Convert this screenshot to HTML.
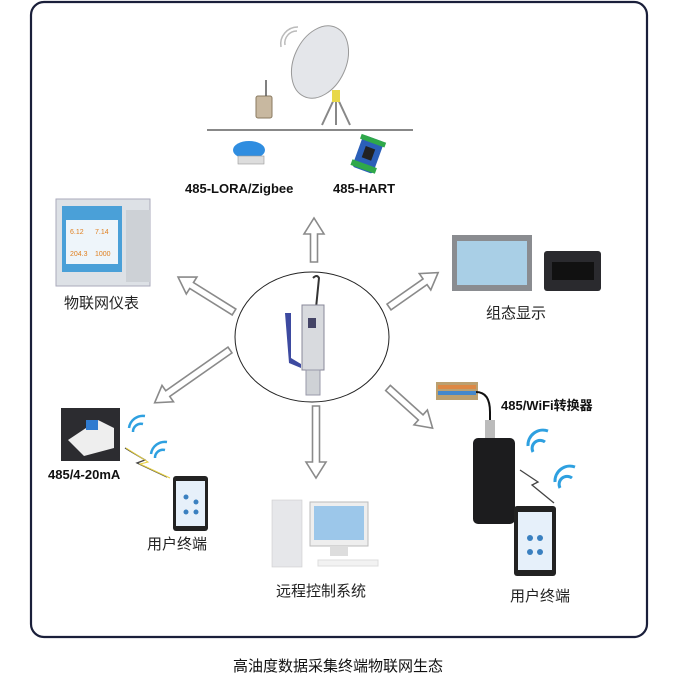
<!DOCTYPE html>
<html><head><meta charset="utf-8"><style>
html,body{margin:0;padding:0;background:#fff;}
svg{display:block;}
text{font-family:"Liberation Sans","Noto Sans CJK SC",sans-serif;}
</style></head><body>
<svg width="677" height="677" viewBox="0 0 677 677" xmlns="http://www.w3.org/2000/svg">
<defs>
<g id="arr"><polygon points="0,-3 -26,-3 -26,-9 -38,0 -26,9 -26,3" transform="scale(-1,1)" fill="#fff" stroke="#888" stroke-width="1.5"/></g>
</defs>
<rect x="31" y="2" width="616" height="635" rx="13" fill="#fff" stroke="#1a1f3a" stroke-width="2.2"/>

<!-- central ellipse -->
<ellipse cx="312" cy="337" rx="77" ry="65" fill="#fff" stroke="#222" stroke-width="1"/>
<path d="M313 278 q4 -4 6 0 l-3 30" stroke="#333" stroke-width="2" fill="none"/>
<rect x="302" y="305" width="22" height="65" fill="#d8dade" stroke="#889" stroke-width="1"/>
<rect x="306" y="370" width="14" height="25" fill="#cfd2d6" stroke="#99a" stroke-width="1"/>
<rect x="308" y="318" width="8" height="10" fill="#446"/>
<path d="M285 313 l6 0 l0 45 l10 6 l0 4 l-12 -5 z" fill="#3d4aa0"/>

<!-- arrows -->
<g transform="translate(314,262) rotate(-90)"><polygon points="0,-3.5 28,-3.5 28,-10 44,0 28,10 28,3.5 0,3.5" fill="#fff" stroke="#8a8a8a" stroke-width="1.6"/></g>
<g transform="translate(234,312) rotate(-148)"><polygon points="0,-3.5 50,-3.5 50,-10 66,0 50,10 50,3.5 0,3.5" fill="#fff" stroke="#8a8a8a" stroke-width="1.6"/></g>
<g transform="translate(389,307) rotate(-35)"><polygon points="0,-3.5 44,-3.5 44,-10 60,0 44,10 44,3.5 0,3.5" fill="#fff" stroke="#8a8a8a" stroke-width="1.6"/></g>
<g transform="translate(230,350) rotate(145)"><polygon points="0,-3.5 76,-3.5 76,-10 92,0 76,10 76,3.5 0,3.5" fill="#fff" stroke="#8a8a8a" stroke-width="1.6"/></g>
<g transform="translate(316,406) rotate(90)"><polygon points="0,-3.5 56,-3.5 56,-10 72,0 56,10 56,3.5 0,3.5" fill="#fff" stroke="#8a8a8a" stroke-width="1.6"/></g>
<g transform="translate(388,388) rotate(42)"><polygon points="0,-3.5 44,-3.5 44,-10 60,0 44,10 44,3.5 0,3.5" fill="#fff" stroke="#8a8a8a" stroke-width="1.6"/></g>

<!-- top: satellite -->
<ellipse cx="320" cy="62" rx="26" ry="38" transform="rotate(25 320 62)" fill="#e4e6ea" stroke="#999" stroke-width="1"/>
<path d="M336 95 l-14 30 M336 95 l14 30 M336 100 l0 25" stroke="#888" stroke-width="2" fill="none"/>
<rect x="332" y="90" width="8" height="12" fill="#e8d84a"/>
<path d="M285 45 a12 12 0 0 1 12 -14 M281 47 a17 17 0 0 1 17 -20" stroke="#bbb" fill="none" stroke-width="1.5"/>
<rect x="256" y="96" width="16" height="22" rx="2" fill="#c8b8a0" stroke="#8a7a60"/>
<line x1="266" y1="96" x2="266" y2="80" stroke="#555" stroke-width="1.5"/>
<line x1="207" y1="130" x2="413" y2="130" stroke="#888" stroke-width="2"/>
<ellipse cx="249" cy="150" rx="16" ry="9" fill="#2f8de0"/>
<rect x="238" y="156" width="26" height="8" fill="#ddd" stroke="#999" stroke-width="0.6"/>
<g transform="rotate(20 370 155)"><rect x="357" y="138" width="22" height="34" rx="3" fill="#2b5fb8"/><rect x="355" y="165" width="26" height="6" fill="#2fa84a"/><rect x="355" y="138" width="26" height="5" fill="#2fa84a"/><rect x="363" y="148" width="10" height="12" fill="#222"/></g>
<text x="185" y="193" font-size="13" font-weight="bold" fill="#111">485-LORA/Zigbee</text>
<text x="333" y="193" font-size="13" font-weight="bold" fill="#111">485-HART</text>

<!-- left meter -->
<rect x="56" y="199" width="94" height="87" fill="#dde1e6" stroke="#aab" stroke-width="1"/>
<rect x="62" y="206" width="60" height="66" fill="#4aa0d8"/>
<rect x="66" y="220" width="52" height="44" fill="#eef5fa"/>
<text x="70" y="234" font-size="7" fill="#e08020">6.12</text><text x="95" y="234" font-size="7" fill="#e08020">7.14</text>
<text x="70" y="256" font-size="7" fill="#e08020">204.3</text><text x="95" y="256" font-size="7" fill="#e08020">1000</text>
<rect x="126" y="210" width="24" height="72" fill="#cdd1d6"/>
<text x="64" y="308" font-size="15" fill="#222">物联网仪表</text>

<!-- right HMI -->
<rect x="452" y="235" width="80" height="56" fill="#8a8c90"/>
<rect x="457" y="241" width="70" height="44" fill="#a9cfe6"/>
<rect x="544" y="251" width="57" height="40" rx="3" fill="#2a2a2e"/>
<rect x="552" y="262" width="42" height="18" fill="#111"/>
<text x="486" y="318" font-size="15" fill="#222">组态显示</text>

<!-- left-bottom -->
<rect x="61" y="408" width="59" height="53" fill="#2c2c30"/>
<path d="M68 440 l30 -20 l16 8 l0 20 l-30 8 z" fill="#eee"/>
<rect x="86" y="420" width="12" height="10" fill="#2f7bd0"/>
<g fill="none" stroke="#2ea0e0" stroke-width="2.5"><path d="M133 432 a8 8 0 0 1 10 -8 M129 428 a14 14 0 0 1 16 -12"/><path d="M155 458 a8 8 0 0 1 10 -8 M151 454 a14 14 0 0 1 16 -12"/></g>
<path d="M125 448 l20 12 l-8 3 l30 14" stroke="#444" stroke-width="1.3" fill="none"/>
<path d="M126 448 l22 14 l-8 2 l30 14" stroke="#e6d040" stroke-width="1" fill="none"/>
<text x="48" y="479" font-size="13" font-weight="bold" fill="#111">485/4-20mA</text>
<rect x="173" y="476" width="35" height="55" rx="3" fill="#222"/>
<rect x="176" y="481" width="29" height="45" fill="#e6f0fa"/>
<circle cx="186" cy="497" r="2.5" fill="#3a80c0"/><circle cx="196" cy="502" r="2.5" fill="#3a80c0"/><circle cx="186" cy="512" r="2.5" fill="#3a80c0"/><circle cx="196" cy="512" r="2.5" fill="#3a80c0"/>
<text x="147" y="549" font-size="15" fill="#222">用户终端</text>

<!-- computer -->
<rect x="272" y="500" width="30" height="67" fill="#e6e7ea" stroke="#ccc" stroke-width="0.6"/>
<rect x="310" y="502" width="58" height="44" fill="#eee" stroke="#bbb"/>
<rect x="314" y="506" width="50" height="34" fill="#9cc7ea"/>
<rect x="330" y="546" width="18" height="10" fill="#ddd"/>
<rect x="318" y="560" width="60" height="6" fill="#f2f2f2" stroke="#ddd"/>
<text x="276" y="596" font-size="15" fill="#222">远程控制系统</text>

<!-- right bottom -->
<rect x="436" y="382" width="42" height="18" fill="#bba070"/>
<rect x="438" y="385" width="38" height="4" fill="#d84"/><rect x="438" y="391" width="38" height="4" fill="#48c"/>
<path d="M476 392 q14 0 14 20 l0 16" stroke="#111" stroke-width="2" fill="none"/>
<rect x="485" y="420" width="10" height="18" fill="#bbb"/>
<rect x="473" y="438" width="42" height="86" rx="5" fill="#1c1c1e"/>
<text x="501" y="410" font-size="13" font-weight="bold" fill="#111">485/WiFi转换器</text>
<g fill="none" stroke="#2ea0e0" stroke-width="3"><path d="M533 452 a8 8 0 0 1 12 -10 M528 446 a15 15 0 0 1 20 -15"/><path d="M560 488 a8 8 0 0 1 12 -10 M555 482 a15 15 0 0 1 20 -15"/></g>
<path d="M520 470 l18 12 l-6 3 l22 18" stroke="#444" stroke-width="1.3" fill="none"/>
<rect x="514" y="506" width="42" height="70" rx="3" fill="#222"/>
<rect x="518" y="512" width="34" height="58" fill="#e6f0fa"/>
<circle cx="530" cy="538" r="3" fill="#3a80c0"/><circle cx="540" cy="538" r="3" fill="#3a80c0"/><circle cx="530" cy="552" r="3" fill="#3a80c0"/><circle cx="540" cy="552" r="3" fill="#3a80c0"/>
<text x="510" y="601" font-size="15" fill="#222">用户终端</text>

<text x="338" y="671" font-size="15" text-anchor="middle" fill="#111">高油度数据采集终端物联网生态</text>
</svg>
</body></html>
